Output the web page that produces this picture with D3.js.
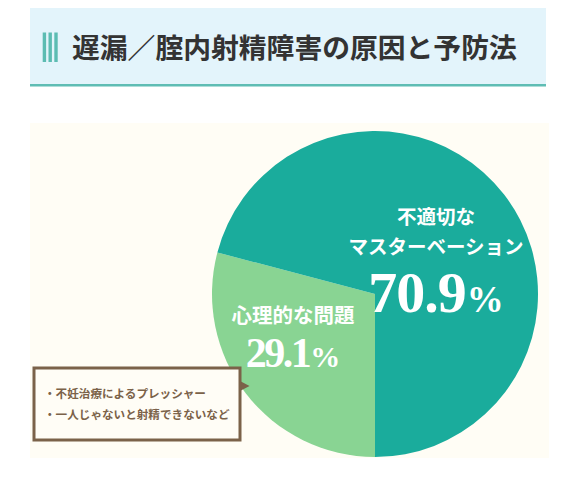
<!DOCTYPE html>
<html>
<head>
<meta charset="utf-8">
<script src="https://cdn.jsdelivr.net/npm/d3@7"></script>
<style>
  html, body { margin: 0; padding: 0; background: #ffffff; }
  svg { display: block; }
</style>
</head>
<body>
<svg id="chart" width="576" height="491"></svg>
<script>
// ---- data ----
const title = "遅漏／腟内射精障害の原因と予防法";
const categories = ["心理的な問題", "不適切なマスターベーション"];
const values = [29.1, 70.9];
const labelLines = [["心理的な問題"], ["不適切な", "マスターベーション"]];
const colors = ["#89d493", "#1aac9c"];
const notes = ["不妊治療によるプレッシャー", "一人じゃないと射精できないなど"];

// ---- drawing ----
const svg = d3.select("#chart");
const CJK = "'Noto Sans CJK JP', 'Noto Sans', sans-serif";
const SERIF = "'Liberation Serif', 'DejaVu Serif', serif";

// title block
svg.append("rect").attr("x", 30).attr("y", 8).attr("width", 516).attr("height", 77).attr("fill", "#e3f4fb");
svg.append("rect").attr("x", 30).attr("y", 84).attr("width", 516).attr("height", 2.5).attr("fill", "#5fbdb4");
[0, 1, 2].forEach(i => {
  svg.append("rect").attr("x", 42.7 + i * 5.8).attr("y", 32.5).attr("width", 3.4).attr("height", 29.5).attr("fill", "#5cbcb2");
});
svg.append("text").attr("x", 72).attr("y", 46).attr("dominant-baseline", "central")
  .attr("font-family", CJK).attr("font-weight", 700).attr("font-size", 27.8)
  .attr("fill", "#333333").text(title);

// chart panel
svg.append("rect").attr("x", 30).attr("y", 123).attr("width", 519).attr("height", 335).attr("fill", "#fffdf5");

// pie
const cx = 375, cy = 294, r = 163;
const pie = d3.pie().sort(null).value(d => d).startAngle(Math.PI).endAngle(3 * Math.PI);
const arcs = pie(values);
const arc = d3.arc().innerRadius(0).outerRadius(r);
const g = svg.append("g").attr("transform", `translate(${cx},${cy})`);
g.selectAll("path").data(arcs).join("path")
  .attr("d", arc).attr("fill", (d, i) => colors[i]);

// labels
const fmt = d3.format(".1f");
const labelPos = [
  { x: -82, lines: [20], lineSize: 20.5, num: 73, numSize: 42, pctSize: 30, ls: -2.5 },
  { x: 61, lines: [-79, -49], lineSize: 19.5, num: 18, numSize: 58, pctSize: 37, ls: -1 }
];
arcs.forEach((a, i) => {
  const p = labelPos[i];
  labelLines[i].forEach((t, j) => {
    g.append("text").attr("x", p.x).attr("y", p.lines[j]).attr("text-anchor", "middle")
      .attr("dominant-baseline", "central")
      .attr("font-family", CJK).attr("font-weight", 700).attr("font-size", p.lineSize)
      .attr("fill", "#ffffff").text(t);
  });
  const tx = g.append("text").attr("x", p.x).attr("y", p.num).attr("text-anchor", "middle")
    .attr("font-family", SERIF).attr("font-weight", 700).attr("fill", "#ffffff");
  tx.append("tspan").attr("font-size", p.numSize).attr("letter-spacing", p.ls).text(fmt(values[i]));
  tx.append("tspan").attr("font-size", p.pctSize).attr("dx", 1).text("%");
});

// callout
const brown = "#7b6249";
svg.append("path").attr("d", "M240,381 L249.5,386 L240,391 Z").attr("fill", brown);
svg.append("rect").attr("x", 34).attr("y", 368).attr("width", 206).attr("height", 72)
  .attr("fill", "#fffdf6").attr("stroke", brown).attr("stroke-width", 3);
notes.forEach((t, i) => {
  svg.append("text").attr("x", 44).attr("y", 393 + i * 21).attr("dominant-baseline", "central")
    .attr("font-family", CJK).attr("font-weight", 700).attr("font-size", 11.6)
    .attr("fill", brown).text("・" + t);
});
</script>
</body>
</html>
